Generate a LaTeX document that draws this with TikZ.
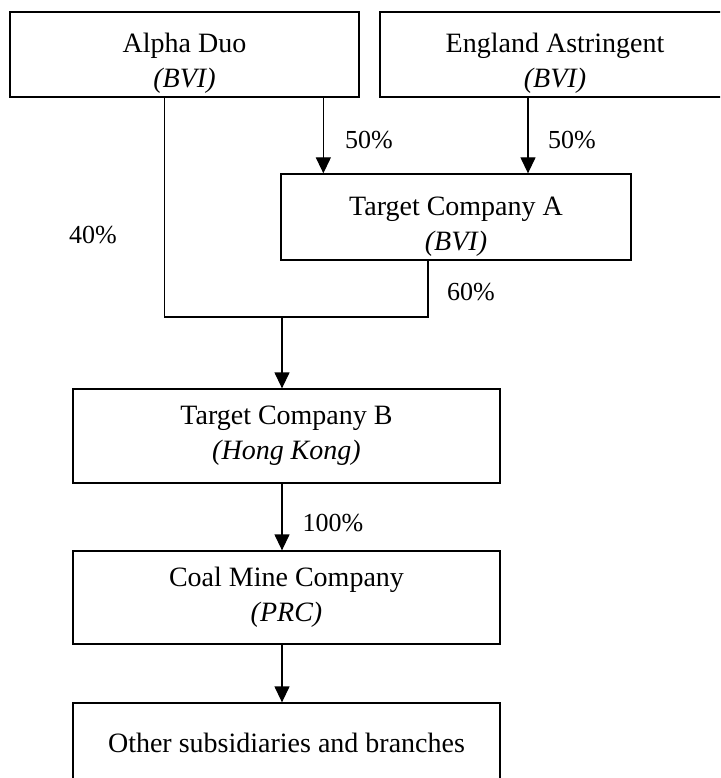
\documentclass[tikz,border=0pt]{standalone}
\usepackage{fontspec}
\setmainfont{Liberation Serif}
\usetikzlibrary{arrows.meta}

\begin{document}
\begin{tikzpicture}[x=1pt,y=-1pt,
    entity/.style={draw,line width=1.3pt,inner sep=0pt,align=center,
        font=\fontsize{28}{35}\selectfont},
    share/.style={font=\fontsize{26}{30}\selectfont,inner sep=0pt},
    own/.style={line width=1.3pt,-{Triangle[length=16pt,width=15pt]}},
    link/.style={line width=1.3pt}
]
\clip (0,0) rectangle (720,778);
% shareholders
\node[entity,minimum width=349pt,minimum height=85pt] (alpha) at (184.5,54.5)
    {\rule{0pt}{36pt}Alpha Duo\\\textit{(BVI)}};
\node[entity,minimum width=350pt,minimum height=85pt] (england) at (555,54.5)
    {\rule{0pt}{36pt}England Astringent\\\textit{(BVI)}};
% group companies
\node[entity,minimum width=350pt,minimum height=86pt] (targetA) at (456,217)
    {\rule{0pt}{38pt}Target Company A\\\textit{(BVI)}};
\node[entity,minimum width=427pt,minimum height=94pt] (targetB) at (286.5,436)
    {Target Company B\\\textit{(Hong Kong)}};
\node[entity,minimum width=427pt,minimum height=93pt] (coal) at (286.5,597.5)
    {Coal Mine Company\\\textit{(PRC)}};
\node[entity,minimum width=427pt,minimum height=80pt] (other) at (286.5,743)
    {Other subsidiaries and branches};

\coordinate (aA) at ([xshift=43pt]targetA.north west);
\coordinate (eA) at ([xshift=72pt]targetA.north);
\coordinate (junc) at (282,317);
\draw[own] (alpha.south -| aA) -- (aA);
\draw[own] (england.south -| eA) -- (eA);
\draw[link] ([xshift=155pt]alpha.south west) |- (junc) -| ([xshift=-28pt]targetA.south);
\draw[own] (junc) -- (junc |- targetB.north);
\draw[own] ([xshift=-4.5pt]targetB.south) -- ([xshift=-4.5pt]coal.north);
\draw[own] ([xshift=-4.5pt]coal.south) -- ([xshift=-4.5pt]other.north);

% percentages
\node[share] (pa) at (369,140) {50\%};
\node[share] (pe) at (572,140) {50\%};
\node[share] (pb) at (93,235) {40\%};
\node[share] (pc) at (471,292) {60\%};
\node[share] (pd) at (333,523) {100\%};
\end{tikzpicture}
\end{document}
